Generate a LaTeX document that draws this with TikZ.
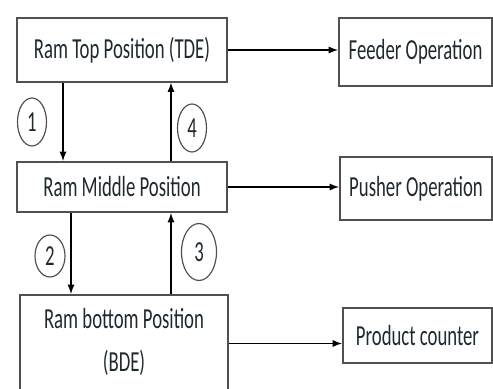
\documentclass[tikz,border=0pt]{standalone}
\usepackage{fontspec}
\setmainfont{Carlito}
\usetikzlibrary{arrows.meta}
\usetikzlibrary{calc}
\usetikzlibrary{shapes.geometric}
\tikzset{>={Latex[length=8pt,width=6pt]}}
\definecolor{boxgray}{RGB}{80,80,80}
\definecolor{textslate}{RGB}{30,42,48}
\newcommand{\tall}[1]{\scalebox{1}[1.55]{#1}}
\tikzstyle{stagebox}=[draw=boxgray,line width=1.5pt,fill=white,inner sep=0pt,font=\fontsize{16}{18}\selectfont,text=textslate,align=center]
\tikzstyle{stepnum}=[ellipse,draw=boxgray,line width=1pt,inner sep=0pt,minimum width=0.87cm,minimum height=1.44cm,font=\fontsize{16}{18}\selectfont,text=textslate]
\tikzstyle{flow}=[->,draw=black,line width=1.1pt]

\begin{document}
\begin{tikzpicture}[x=0.03cm,y=-0.03cm]
  \clip (0,0) rectangle (493,389);
  % ram positions
  \node[stagebox,minimum width=6.3cm,minimum height=1.9cm] (top) at (122,50) {\tall{Ram Top Position (TDE)}};
  \node[stagebox,minimum width=6.3cm,minimum height=1.5cm] (mid) at (122,187) {\tall{Ram Middle Position}};
  \node[stagebox,minimum width=6.24cm,minimum height=2.91cm] (bot) at (124,343.5) {\tall{\begin{tabular}{@{}c@{}}Ram bottom Position\\[6pt](BDE)\end{tabular}}};
  % operations
  \node[stagebox,minimum width=4.59cm,minimum height=2.04cm] (feed) at (415.5,52) {\tall{Feeder Operation}};
  \node[stagebox,minimum width=4.56cm,minimum height=1.89cm] (push) at (416,188.5) {\tall{Pusher Operation}};
  \node[stagebox,minimum width=4.47cm,minimum height=1.65cm] (count) at (417.5,335.5) {\tall{Product counter}};

  \coordinate (c1) at (63,0);
  \coordinate (c2) at (71,0);
  \coordinate (c34) at (171,0);
  \draw[flow] (top.south -| c1) -- (mid.north -| c1);
  \draw[flow] (mid.north -| c34) -- (top.south -| c34);
  \draw[flow] (mid.south -| c2) -- (bot.north -| c2);
  \draw[flow] (bot.north -| c34) -- (mid.south -| c34);

  \draw[flow] (top.east) -- (top.east -| feed.west);
  \draw[flow] (mid.east) -- (mid.east -| push.west);
  \draw[flow] (bot.east) -- (bot.east -| count.west);

  \node[stepnum] (n1) at (32,122) {\tall{1}};
  \node[stepnum] (n4) at (192,128) {\tall{4}};
  \node[stepnum,minimum width=0.9cm,minimum height=1.26cm] (n2) at (50,256) {\tall{2}};
  \node[stepnum,minimum width=1.05cm,minimum height=1.71cm] (n3) at (199,252) {\tall{3}};
\end{tikzpicture}
\end{document}
